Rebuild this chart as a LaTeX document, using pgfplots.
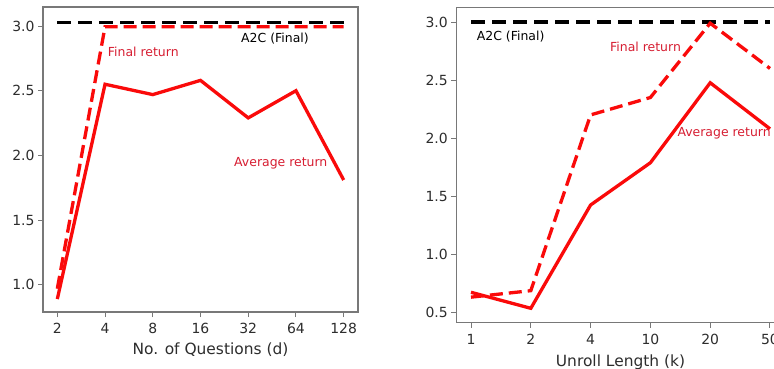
\documentclass[border=0pt]{standalone}
\usepackage{pgfplots}
\pgfplotsset{compat=1.18}
\usepackage{fontspec}
\setmainfont{DejaVu Sans}
\definecolor{spine}{RGB}{120,120,120}
\definecolor{ticktext}{RGB}{45,45,45}
\definecolor{lbl}{RGB}{215,30,50}
\definecolor{lnred}{RGB}{250,10,10}
\pgfplotsset{
  mystyle/.style={
    scale only axis,
    anchor=south west,
    axis line style={spine, line width=1.1bp},
    tick style={spine, line width=1bp},
    major tick length=5bp,
    tick align=outside,
    xtick pos=bottom, ytick pos=left,
    ticklabel style={font=\fontsize{14}{15}\selectfont, text=ticktext},
    xticklabel style={yshift=-3bp},
    label style={font=\fontsize{15.5}{16}\selectfont, text=ticktext},
    /pgf/number format/assume math mode=true,
    /pgf/number format/fixed, /pgf/number format/fixed zerofill, /pgf/number format/precision=1,
    clip=false,
  },
  red solid/.style={lnred, line width=3.3bp, line join=miter},
  red dash/.style={lnred, line width=3.3bp, dash pattern=on 13bp off 6bp},
  black dash/.style={black, line width=3.3bp, dash pattern=on 14bp off 7bp},
}
\begin{document}
\begin{tikzpicture}
\clip (0,0) rectangle (774bp,369bp);
\fill[white] (0,0) rectangle (774bp,369bp);
% Left chart
\begin{axis}[mystyle,
  at={(43bp,57bp)}, width=315bp, height=305bp,
  xmin=-0.3, xmax=6.3, ymin=0.79, ymax=3.147,
  xtick={0,1,2,3,4,5,6},
  xticklabels={2,4,8,16,32,64,128},
  ytick={1.0,1.5,2.0,2.5,3.0},
  xlabel={No. of Questions (d)},
  xlabel style={xshift=10bp, yshift=-2bp},
]
\addplot[black dash] coordinates {(0,3.025) (6,3.025)};
\addplot[red dash] coordinates {(0,0.97) (1,2.995) (2,2.995) (3,2.995) (4,2.995) (5,2.995) (6,2.995)};
\addplot[red solid] coordinates {(0,0.89) (1,2.55) (2,2.47) (3,2.58) (4,2.29) (5,2.50) (6,1.81)};
\node[anchor=west, text=lbl, font=\fontsize{12.5}{13}\selectfont, inner sep=0pt] at (axis cs:1.056,2.80) {Final return};
\node[anchor=west, text=black, font=\fontsize{12.5}{13}\selectfont, inner sep=0pt] at (axis cs:3.849,2.90) {A2C (Final)};
\node[anchor=west, text=lbl, font=\fontsize{12.5}{13}\selectfont, inner sep=0pt] at (axis cs:3.702,1.942) {Average return};
\end{axis}
% Right chart
\begin{axis}[mystyle,
  at={(456.3bp,46.3bp)}, width=328.4bp, height=315.4bp,
  xmin=-0.246, xmax=5.246, ymin=0.41, ymax=3.127,
  xtick={0,1,2,3,4,5},
  xticklabels={1,2,4,10,20,50},
  ytick={0.5,1.0,1.5,2.0,2.5,3.0},
  xlabel={Unroll Length (k)},
  xlabel style={yshift=-3bp},
]
\addplot[black dash] coordinates {(0,3.0) (5,3.0)};
\addplot[red dash] coordinates {(0,0.63) (1,0.686) (2,2.20) (3,2.35) (4,2.99) (5,2.60)};
\addplot[red solid] coordinates {(0,0.672) (1,0.534) (2,1.424) (3,1.788) (4,2.477) (5,2.08)};
\node[anchor=west, text=black, font=\fontsize{12.5}{13}\selectfont, inner sep=0pt] at (axis cs:0.095,2.874) {A2C (Final)};
\node[anchor=west, text=lbl, font=\fontsize{12.5}{13}\selectfont, inner sep=0pt] at (axis cs:2.324,2.782) {Final return};
\node[anchor=west, text=lbl, font=\fontsize{12.5}{13}\selectfont, inner sep=0pt] at (axis cs:3.450,2.042) {Average return};
\end{axis}
\end{tikzpicture}
\end{document}
